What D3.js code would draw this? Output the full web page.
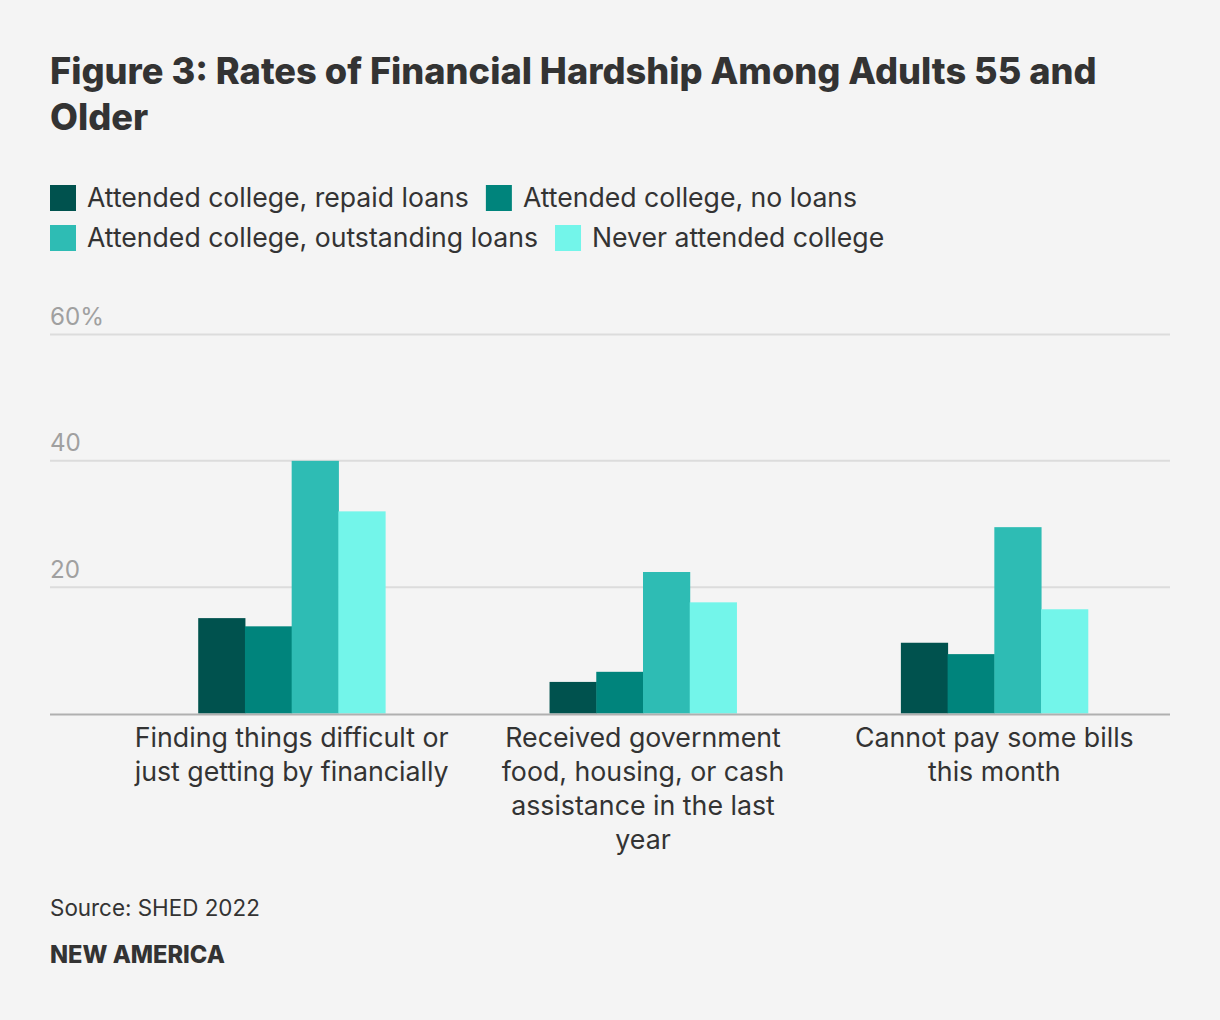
<!DOCTYPE html>
<html><head><meta charset="utf-8">
<script src="https://cdn.jsdelivr.net/npm/d3@7"></script>
<style>
html,body{margin:0;padding:0;background:#f4f4f4;}
svg{display:block;font-family:Inter, "Noto Sans", sans-serif;}
</style></head>
<body><svg id="chart" width="1220" height="1020"></svg>
<script>
const categories = [
  "Finding things difficult or\njust getting by financially",
  "Received government\nfood, housing, or cash\nassistance in the last\nyear",
  "Cannot pay some bills\nthis month"
];
const seriesNames = ["Attended college, repaid loans","Attended college, no loans","Attended college, outstanding loans","Never attended college"];
const repaid = [15.1, 5.0, 11.2];
const noLoans = [13.8, 6.6, 9.4];
const outstanding = [40.0, 22.4, 29.5];
const never = [32.0, 17.6, 16.5];
const yTicks = [0, 20, 40, 60];
const colors = ["#00524e","#00847c","#2ebcb4","#73f5ea"];

const seriesValues = [repaid, noLoans, outstanding, never];
const svg = d3.select("#chart");
svg.append("rect").attr("width",1220).attr("height",1020).attr("fill","#f4f4f4");

// scale a text's font-size so its measured width hits a target width
function fitSize(str, baseSize, weight, target){
  const t = svg.append("text").attr("font-size",baseSize).attr("font-weight",weight).text(str);
  const w = t.node().getComputedTextLength();
  t.remove();
  return baseSize*target/w;
}

// title
const titleSize = fitSize("Figure 3: Rates of Financial Hardship Among Adults 55 and", 34, 800, 1047);
const title = svg.append("text").attr("x",50).attr("fill","#333").attr("font-weight",800).attr("font-size",titleSize);
title.append("tspan").attr("x",50).attr("y",84).text("Figure 3: Rates of Financial Hardship Among Adults 55 and");
title.append("tspan").attr("x",50).attr("y",130).text("Older");

// legend
const legSize = fitSize(seriesNames[0], 24, 400, 382);
const legendRows = [[0,1],[2,3]];
const legG = svg.append("g");
legendRows.forEach((row,ri)=>{
  let x = 50;
  const y = 185 + ri*40;
  row.forEach(i=>{
    legG.append("rect").attr("x",x).attr("y",y).attr("width",26).attr("height",26).attr("fill",colors[i]);
    const t = legG.append("text").attr("x",x+37).attr("y",y+22).attr("font-size",legSize).attr("fill","#333").text(seriesNames[i]);
    const w = t.node().getComputedTextLength();
    x += 37 + w + 17;
  });
});

// scales
const y = d3.scaleLinear().domain([0,60]).range([713.5, 334.5]);
const x0 = d3.scaleBand().domain(d3.range(categories.length)).range([116,1170]).paddingInner(0.468).paddingOuter(0.234);
const x1 = d3.scaleBand().domain(d3.range(seriesNames.length)).range([0,x0.bandwidth()]);

// gridlines
const tickSize = fitSize("60%", 22, 400, 54);
const grid = svg.append("g");
yTicks.filter(d=>d>0).forEach(t=>{
  grid.append("line").attr("x1",50).attr("x2",1170).attr("y1",y(t)).attr("y2",y(t)).attr("stroke","#dcdcdc").attr("stroke-width",2);
  grid.append("text").attr("x",50).attr("y",y(t)-9.5).attr("font-size",tickSize).attr("fill","#a0a0a0").text(t===60? t+"%" : t);
});

// bars
const gBars = svg.append("g");
categories.forEach((c,ci)=>{
  seriesValues.forEach((vals,si)=>{
    gBars.append("rect")
      .attr("x", x0(ci)+x1(si))
      .attr("y", y(vals[ci]))
      .attr("width", x1.bandwidth()+0.5)
      .attr("height", y(0)-y(vals[ci]))
      .attr("fill", colors[si]);
  });
});

// baseline
svg.append("line").attr("x1",50).attr("x2",1170).attr("y1",y(0)+1).attr("y2",y(0)+1).attr("stroke","#b0b0b0").attr("stroke-width",2);

// x labels
const xlabSize = fitSize("Finding things difficult or", 24, 400, 314);
categories.forEach((c,ci)=>{
  const cx = x0(ci)+x0.bandwidth()/2;
  const t = svg.append("text").attr("text-anchor","middle").attr("font-size",xlabSize).attr("fill","#333");
  c.split("\n").forEach((line,li)=>{
    t.append("tspan").attr("x",cx).attr("y",747+li*34).text(line);
  });
});

// footer
const srcSize = fitSize("Source: SHED 2022", 20, 400, 210);
svg.append("text").attr("x",50).attr("y",916).attr("font-size",srcSize).attr("fill","#333").text("Source: SHED 2022");
const naSize = fitSize("NEW AMERICA", 20, 800, 175);
svg.append("text").attr("x",50).attr("y",963).attr("font-size",naSize).attr("font-weight",800).attr("fill","#333").text("NEW AMERICA");
</script>
</body></html>
